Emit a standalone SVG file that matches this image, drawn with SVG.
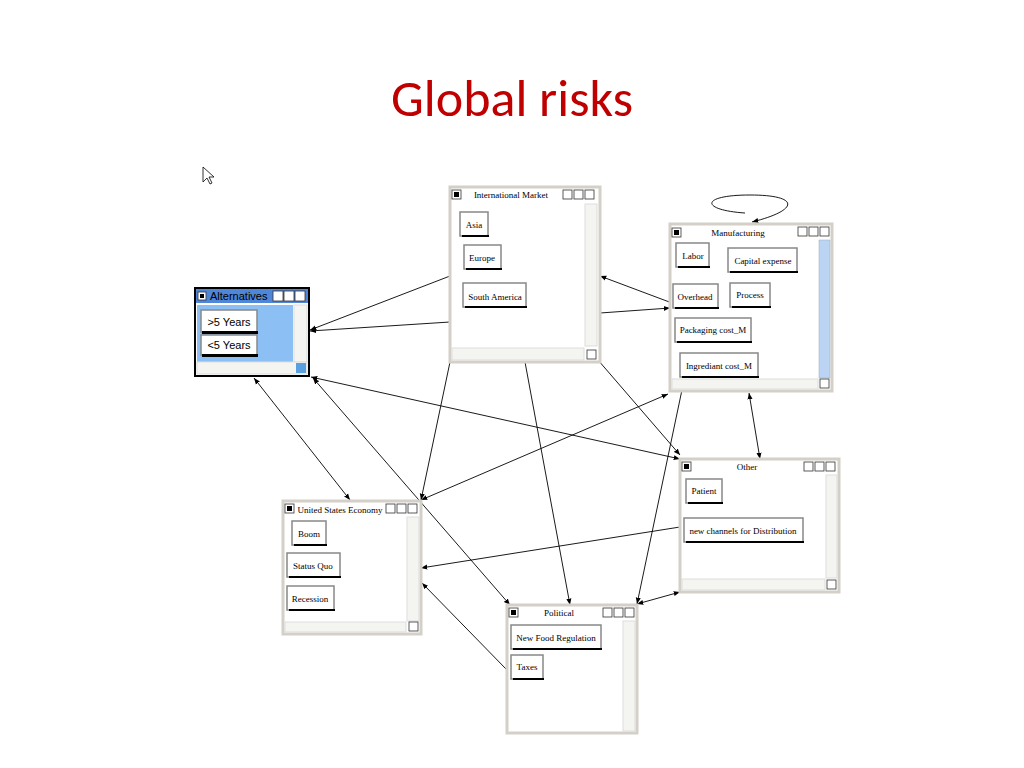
<svg xmlns="http://www.w3.org/2000/svg" width="1024" height="768" viewBox="0 0 1024 768">
<style>
.win{fill:#fff;stroke:#d4d0c8;stroke-width:3}
.tt{font-family:"Liberation Serif",serif;font-size:9px;fill:#000}
.btn{fill:#fff;stroke:#888;stroke-width:1.5}
.bs{fill:#000}
.bl{font-family:"Liberation Serif",serif;font-size:9px;fill:#000}
.sb{fill:#f4f4f0;stroke:#ddd;stroke-width:1}
.ic{fill:#fff;stroke:#333;stroke-width:0.8}
.c line,.c path{stroke:#000;stroke-width:0.9;fill:none}
</style>
<defs>
<marker id="a" viewBox="0 0 10 10" refX="10" refY="5" markerWidth="7" markerHeight="7" orient="auto-start-reverse"><path d="M0,1 L10,5 L0,9 z" fill="#000"/></marker>
</defs>
<text x="512" y="116" text-anchor="middle" font-family="Calibri,'Open Sans','Liberation Sans',sans-serif" font-size="52" fill="#c00000">Global risks</text>
<path d="M203,167 L203,182 L207,178 L210,184 L212,183 L209,177 L214,177 Z" fill="#fff" stroke="#000" stroke-width="0.8"/>

<g class="c">
<line x1="450" y1="276" x2="310" y2="330" marker-end="url(#a)"/>
<line x1="450" y1="322" x2="310" y2="331" marker-end="url(#a)"/>
<line x1="672" y1="303" x2="600" y2="276" marker-end="url(#a)"/>
<line x1="600" y1="313" x2="670" y2="308" marker-end="url(#a)"/>
<line x1="311" y1="377" x2="680" y2="459" marker-start="url(#a)" marker-end="url(#a)"/>
<line x1="254" y1="378" x2="350" y2="500" marker-start="url(#a)" marker-end="url(#a)"/>
<line x1="313" y1="378" x2="510" y2="605" marker-start="url(#a)" marker-end="url(#a)"/>
<line x1="450" y1="362" x2="421" y2="500" marker-end="url(#a)"/>
<line x1="525" y1="362" x2="570" y2="605" marker-end="url(#a)"/>
<line x1="598" y1="360" x2="680" y2="455" marker-end="url(#a)"/>
<line x1="668" y1="394" x2="421" y2="500" marker-start="url(#a)" marker-end="url(#a)"/>
<line x1="749" y1="393" x2="760" y2="459" marker-start="url(#a)" marker-end="url(#a)"/>
<line x1="683" y1="385" x2="637" y2="604" marker-start="url(#a)" marker-end="url(#a)"/>
<line x1="680" y1="527" x2="421" y2="568" marker-end="url(#a)"/>
<line x1="680" y1="592" x2="637" y2="604" marker-start="url(#a)" marker-end="url(#a)"/>
<line x1="507" y1="670" x2="422" y2="583" marker-end="url(#a)"/>
<path d="M745,213 C700,210 700,195 750,195 C800,195 800,210 752,222" marker-end="url(#a)"/>
</g>

<g id="alternatives">
<rect x="195" y="288" width="114" height="88" fill="#fff" stroke="#000" stroke-width="2"/>
<rect x="196" y="289" width="112" height="14" fill="#4f86d8"/>
<rect x="198" y="292" width="8" height="8" class="ic"/><rect x="200" y="294" width="4" height="4"/>
<text x="210" y="300" font-family="'Liberation Sans',sans-serif" font-size="11" fill="#000">Alternatives</text>
<rect x="273" y="291" width="10" height="10" class="ic"/><rect x="284" y="291" width="10" height="10" class="ic"/><rect x="295" y="291" width="10" height="10" class="ic"/>
<rect x="197" y="305" width="96" height="57" fill="#8cc0f4"/>
<rect x="294" y="305" width="13" height="57" class="sb"/>
<rect x="197" y="362" width="110" height="12" class="sb"/>
<rect x="296" y="363" width="10" height="10" fill="#5aa0e0"/>
<rect x="201" y="310" width="56" height="22" class="btn"/><rect x="202" y="331" width="56" height="3" class="bs"/>
<text x="229" y="326" text-anchor="middle" font-family="'Liberation Sans',sans-serif" font-size="11">&gt;5 Years</text>
<rect x="201" y="335" width="56" height="20" class="btn"/><rect x="202" y="354" width="56" height="3" class="bs"/>
<text x="229" y="349" text-anchor="middle" font-family="'Liberation Sans',sans-serif" font-size="11">&lt;5 Years</text>
</g>

<g id="international-market">
<rect x="450" y="187" width="150" height="175" class="win"/>
<rect x="452" y="190" width="9" height="9" class="ic"/><rect x="454" y="192" width="5" height="5"/>
<text x="511" y="198" text-anchor="middle" class="tt">International Market</text>
<rect x="563" y="190" width="9" height="9" class="ic"/><rect x="574" y="190" width="9" height="9" class="ic"/><rect x="585" y="190" width="9" height="9" class="ic"/>
<rect x="585" y="204" width="12" height="142" class="sb"/><rect x="452" y="348" width="132" height="12" class="sb"/>
<rect x="587" y="350" width="9" height="9" class="ic"/>
<rect x="460" y="212" width="28" height="24" class="btn"/><rect x="462" y="235" width="27" height="2" class="bs"/>
<text x="474" y="228" text-anchor="middle" class="bl">Asia</text>
<rect x="464" y="245" width="37" height="24" class="btn"/><rect x="466" y="268" width="36" height="2" class="bs"/>
<text x="482" y="261" text-anchor="middle" class="bl">Europe</text>
<rect x="463" y="283" width="63" height="24" class="btn"/><rect x="465" y="306" width="62" height="2" class="bs"/>
<text x="495" y="300" text-anchor="middle" class="bl">South America</text>
</g>

<g id="manufacturing">
<rect x="670" y="224" width="162" height="167" class="win"/>
<rect x="672" y="228" width="9" height="9" class="ic"/><rect x="674" y="230" width="5" height="5"/>
<text x="738" y="236" text-anchor="middle" class="tt">Manufacturing</text>
<rect x="798" y="227" width="9" height="9" class="ic"/><rect x="809" y="227" width="9" height="9" class="ic"/><rect x="820" y="227" width="9" height="9" class="ic"/>
<rect x="819" y="240" width="11" height="138" fill="#bcd4f4" stroke="#9ab" stroke-width="0.5"/>
<rect x="672" y="379" width="146" height="10" class="sb"/><rect x="820" y="379" width="9" height="9" class="ic"/>
<rect x="676" y="243" width="33" height="24" class="btn"/><rect x="678" y="266" width="32" height="2" class="bs"/>
<text x="693" y="259" text-anchor="middle" class="bl">Labor</text>
<rect x="728" y="248" width="69" height="24" class="btn"/><rect x="730" y="271" width="68" height="2" class="bs"/>
<text x="763" y="264" text-anchor="middle" class="bl">Capital expense</text>
<rect x="673" y="284" width="45" height="24" class="btn"/><rect x="675" y="307" width="44" height="2" class="bs"/>
<text x="695" y="300" text-anchor="middle" class="bl">Overhead</text>
<rect x="730" y="283" width="40" height="24" class="btn"/><rect x="732" y="306" width="39" height="2" class="bs"/>
<text x="750" y="298" text-anchor="middle" class="bl">Process</text>
<rect x="675" y="318" width="76" height="24" class="btn"/><rect x="677" y="341" width="75" height="2" class="bs"/>
<text x="713" y="333" text-anchor="middle" class="bl">Packaging cost_M</text>
<rect x="680" y="353" width="78" height="24" class="btn"/><rect x="682" y="376" width="77" height="2" class="bs"/>
<text x="719" y="369" text-anchor="middle" class="bl">Ingrediant cost_M</text>
</g>

<g id="other">
<rect x="680" y="459" width="159" height="133" class="win"/>
<rect x="682" y="462" width="9" height="9" class="ic"/><rect x="684" y="464" width="5" height="5"/>
<text x="747" y="470" text-anchor="middle" class="tt">Other</text>
<rect x="804" y="462" width="9" height="9" class="ic"/><rect x="815" y="462" width="9" height="9" class="ic"/><rect x="826" y="462" width="9" height="9" class="ic"/>
<rect x="826" y="475" width="11" height="103" class="sb"/><rect x="682" y="579" width="143" height="11" class="sb"/>
<rect x="827" y="580" width="9" height="9" class="ic"/>
<rect x="686" y="479" width="36" height="24" class="btn"/><rect x="688" y="502" width="35" height="2" class="bs"/>
<text x="704" y="494" text-anchor="middle" class="bl">Patient</text>
<rect x="684" y="518" width="119" height="24" class="btn"/><rect x="686" y="541" width="118" height="2" class="bs"/>
<text x="743" y="534" text-anchor="middle" class="bl">new channels for Distribution</text>
</g>

<g id="us-economy">
<rect x="283" y="501" width="138" height="133" class="win"/>
<rect x="285" y="504" width="9" height="9" class="ic"/><rect x="287" y="506" width="5" height="5"/>
<text x="340" y="513" text-anchor="middle" class="tt">United States Economy</text>
<rect x="386" y="504" width="9" height="9" class="ic"/><rect x="397" y="504" width="9" height="9" class="ic"/><rect x="408" y="504" width="9" height="9" class="ic"/>
<rect x="407" y="517" width="12" height="104" class="sb"/><rect x="285" y="622" width="121" height="10" class="sb"/>
<rect x="409" y="622" width="9" height="9" class="ic"/>
<rect x="292" y="521" width="34" height="24" class="btn"/><rect x="294" y="544" width="33" height="2" class="bs"/>
<text x="309" y="537" text-anchor="middle" class="bl">Boom</text>
<rect x="287" y="553" width="53" height="24" class="btn"/><rect x="289" y="576" width="52" height="2" class="bs"/>
<text x="313" y="569" text-anchor="middle" class="bl">Status Quo</text>
<rect x="287" y="586" width="47" height="24" class="btn"/><rect x="289" y="609" width="46" height="2" class="bs"/>
<text x="310" y="602" text-anchor="middle" class="bl">Recession</text>
</g>

<g id="political">
<rect x="507" y="605" width="130" height="128" class="win"/>
<rect x="509" y="608" width="9" height="9" class="ic"/><rect x="511" y="610" width="5" height="5"/>
<text x="559" y="616" text-anchor="middle" class="tt">Political</text>
<rect x="603" y="608" width="9" height="9" class="ic"/><rect x="614" y="608" width="9" height="9" class="ic"/><rect x="625" y="608" width="9" height="9" class="ic"/>
<rect x="623" y="621" width="12" height="110" class="sb"/>
<rect x="511" y="625" width="90" height="24" class="btn"/><rect x="513" y="648" width="89" height="2" class="bs"/>
<text x="556" y="641" text-anchor="middle" class="bl">New Food Regulation</text>
<rect x="511" y="655" width="32" height="24" class="btn"/><rect x="513" y="678" width="31" height="2" class="bs"/>
<text x="527" y="670" text-anchor="middle" class="bl">Taxes</text>
</g>
</svg>
